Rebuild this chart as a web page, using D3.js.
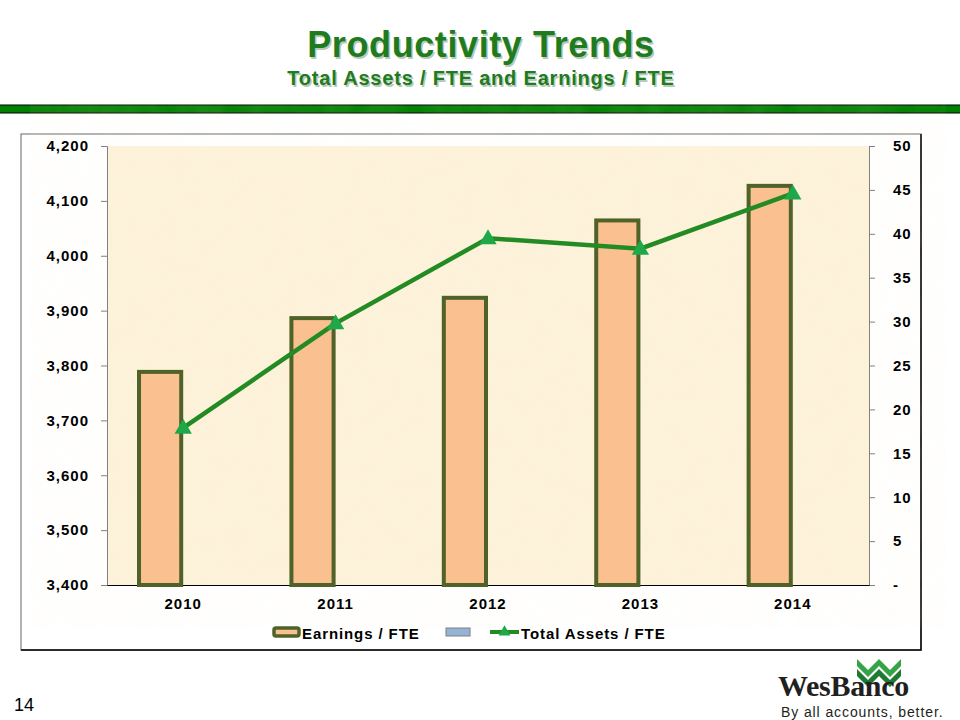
<!DOCTYPE html>
<html><head><meta charset="utf-8">
<script src="https://cdn.jsdelivr.net/npm/d3@7"></script>
<style>body{margin:0;background:#fff;} svg{display:block;font-family:"Liberation Sans",Arial,sans-serif;}</style>
</head><body>
<script>
const years = ["2010","2011","2012","2013","2014"];
const earningsPerFTE = [3792, 3890, 3927, 4068, 4131];
const totalAssetsPerFTE = [17.9, 29.8, 39.5, 38.3, 44.6];
const leftTicks = [3400,3500,3600,3700,3800,3900,4000,4100,4200];
const rightTicks = [0,5,10,15,20,25,30,35,40,45,50];
const legendLabels = ["Earnings / FTE", "", "Total Assets / FTE"];

const W=960,H=720;
const svg=d3.select("body").append("svg").attr("width",W).attr("height",H);

// Title
const tg = svg.append("g");
[[1.5,1.5,"#b9c9b9"],[0,0,"#1e7b1e"]].forEach(([dx,dy,c])=>{
  tg.append("text").attr("x",481+dx).attr("y",57+dy).attr("text-anchor","middle")
    .attr("font-size",36).attr("letter-spacing",0.6).attr("font-weight","bold").attr("fill",c).text("Productivity Trends");
  tg.append("text").attr("x",481+dx).attr("y",85+dy).attr("text-anchor","middle")
    .attr("font-size",20).attr("letter-spacing",0.8).attr("font-weight","bold").attr("fill",c).text("Total Assets / FTE and Earnings / FTE");
});
// green bar
svg.append("rect").attr("x",-1).attr("y",105).attr("width",W+2).attr("height",8)
  .attr("fill","#008000").attr("stroke","#000").attr("stroke-width",1);

// chart box
svg.append("rect").attr("x",21).attr("y",134).attr("width",900).attr("height",516)
  .attr("fill","#fff").attr("stroke","#808080").attr("stroke-width",1.2);
svg.append("path").attr("d","M921,134V650H21").attr("fill","none").attr("stroke","#000").attr("stroke-width",1.5);

const m={l:107,r:869,t:146,b:585};
const x=d3.scaleBand().domain(years).range([m.l,m.r]).paddingInner(0).paddingOuter(0);
const yL=d3.scaleLinear().domain([3400,4200]).range([m.b,m.t]);
const yR=d3.scaleLinear().domain([0,50]).range([m.b,m.t]);
const sub=d3.scaleBand().domain(["a","b"]).range([0,x.bandwidth()]).paddingInner(0).paddingOuter(0.65);

// plot bg
const defs=svg.append("defs");
const f=defs.append("filter").attr("id","tex");
f.append("feTurbulence").attr("type","fractalNoise").attr("baseFrequency",0.04).attr("numOctaves",3).attr("seed",3);
f.append("feColorMatrix").attr("type","matrix").attr("values","0 0 0 0 0.95  0 0 0 0 0.88  0 0 0 0 0.75  0 0 0 0.35 0");
svg.append("rect").attr("x",m.l).attr("y",m.t).attr("width",m.r-m.l).attr("height",m.b-m.t).attr("fill","#fdf2d9");
svg.append("rect").attr("x",m.l).attr("y",m.t).attr("width",m.r-m.l).attr("height",m.b-m.t).attr("filter","url(#tex)").attr("opacity",0.35);

// axes
const fmt=d3.format(",");
const axFont = sel => sel.attr("font-size",15).attr("font-weight","bold").attr("fill","#000")
  .attr("letter-spacing",1).attr("font-family","Liberation Sans, Arial, sans-serif");
const la=svg.append("g").attr("transform",`translate(${m.l},0)`)
  .call(d3.axisLeft(yL).tickValues(leftTicks).tickSize(6).tickFormat(fmt));
la.select(".domain").attr("stroke","#808080");
la.selectAll(".tick line").attr("stroke","#808080");
la.selectAll("text").call(axFont).attr("x",-18);
const ra=svg.append("g").attr("transform",`translate(${m.r},0)`)
  .call(d3.axisRight(yR).tickValues(rightTicks).tickSize(6).tickFormat(d=>d===0?"-":d));
ra.select(".domain").attr("stroke","#808080");
ra.selectAll(".tick line").attr("stroke","#808080");
ra.selectAll("text").call(axFont).attr("x",24);
const ba=svg.append("g").attr("transform",`translate(0,${m.b})`).call(d3.axisBottom(x).tickSize(0));
ba.select(".domain").attr("stroke","#000").attr("stroke-width",1.2);
ba.selectAll("text").call(axFont).attr("dy","1.4em");

// bars
svg.append("g").selectAll("rect").data(years).join("rect")
  .attr("x",(d,i)=>x(d)+sub("a")+2).attr("width",sub.bandwidth()-4)
  .attr("y",(d,i)=>yL(earningsPerFTE[i])+2).attr("height",(d,i)=>m.b-yL(earningsPerFTE[i])-2)
  .attr("fill","#fac090").attr("stroke","#4f6228").attr("stroke-width",4);

// line
const pts=years.map((d,i)=>[x(d)+x.bandwidth()/2, yR(totalAssetsPerFTE[i])]);
svg.append("path").attr("d",d3.line()(pts)).attr("fill","none").attr("stroke","#238b23").attr("stroke-width",4.5);
const tri=d3.symbol().type(d3.symbolTriangle).size(130);
svg.append("g").selectAll("path").data(pts).join("path")
  .attr("transform",d=>`translate(${d[0]},${d[1]+1})`).attr("d",tri).attr("fill","#1fa84a");

// legend
const lg=svg.append("g").attr("font-size",15).attr("font-weight","bold").attr("letter-spacing",0.9);
lg.append("rect").attr("x",274).attr("y",628).attr("width",25).attr("height",8).attr("rx",2)
  .attr("fill","#fac090").attr("stroke","#4f6228").attr("stroke-width",3.5);
lg.append("text").attr("x",302).attr("y",638.5).text(legendLabels[0]);
lg.append("rect").attr("x",446).attr("y",628).attr("width",24).attr("height",8)
  .attr("fill","#95b3d7").attr("stroke","#7f7f7f").attr("stroke-width",1);
lg.append("line").attr("x1",490).attr("x2",519).attr("y1",632).attr("y2",632).attr("stroke","#238b23").attr("stroke-width",4);
lg.append("path").attr("transform","translate(504.5,632)").attr("d",d3.symbol().type(d3.symbolTriangle).size(60)).attr("fill","#1fa84a");
lg.append("text").attr("x",521).attr("y",638.5).text(legendLabels[2]);

// page number
svg.append("text").attr("x",14).attr("y",711).attr("font-size",18).attr("fill","#000").text("14");

// logo
const lo=svg.append("g");
const chev=(y0)=>`M857,${y0} L868,${y0+11} L879,${y0} L890,${y0+11} L901,${y0} L901,${y0+7} L890,${y0+18} L879,${y0+7} L868,${y0+18} L857,${y0+7}Z`;
lo.append("path").attr("d",chev(659)).attr("fill","#35a447");
lo.append("path").attr("d",chev(669)).attr("fill","#1d7a32");
lo.append("text").attr("x",778).attr("y",696).attr("font-family","Liberation Serif, Times New Roman, serif")
  .attr("font-weight","bold").attr("font-size",30).attr("letter-spacing",-0.3).attr("fill","#231f20").text("WesBanco");
lo.append("text").attr("x",781).attr("y",717).attr("font-family","Liberation Sans, Arial, sans-serif")
  .attr("font-size",14).attr("letter-spacing",0.9).attr("fill","#231f20").text("By all accounts, better.");
</script>
</body></html>
